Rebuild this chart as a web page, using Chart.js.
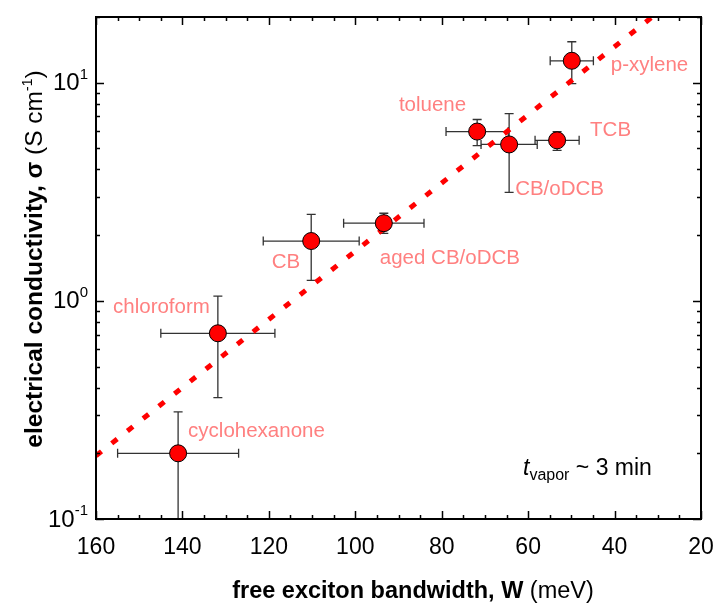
<!DOCTYPE html>
<html>
<head>
<meta charset="utf-8">
<script src="https://cdn.jsdelivr.net/npm/chart.js@4.4.1/dist/chart.umd.min.js"></script>
<style>
  html, body { margin: 0; padding: 0; background: #fff; }
  #wrap { width: 716px; height: 605px; }
</style>
</head>
<body>
<div id="wrap"><canvas id="chart" width="716" height="605"></canvas></div>
<script>
// solvent data
const solvents = ['cyclohexanone', 'chloroform', 'CB', 'aged CB/oDCB', 'toluene', 'CB/oDCB', 'TCB', 'p-xylene'];
const bandwidth = [141.0, 131.8, 110.2, 93.4, 71.8, 64.4, 53.3, 49.9];       // meV
const bandwidthErr = [14.0, 13.2, 11.1, 9.3, 7.2, 6.5, 5.1, 5.0];
const conductivity = [0.20, 0.71, 1.88, 2.27, 5.97, 5.21, 5.44, 12.6];      // S/cm
const sigmaLow = [0.10, 0.36, 1.24, 2.04, 5.15, 3.14, 4.89, 9.9];
const sigmaHigh = [0.31, 1.05, 2.49, 2.52, 6.78, 7.22, 5.97, 15.4];

// exponential fit (straight on log axis)
const fitW = [160, 31.3];
const fitSigma = [0.195, 20];

// axes
const xTicks = [160, 140, 120, 100, 80, 60, 40, 20];
const yTicks = [0.1, 1, 10];
const yExponents = ['-1', '0', '1'];

// label placement relative to each marker (px), kept apart from the data
const labelOffsets = [[10, -22, 'left'], [-8, -26, 'right'], [-11, 21, 'right'], [-4, 35, 'left'],
                      [-11, -26, 'right'], [6, 45, 'left'], [33, -10, 'left'], [39, 5, 'left']];

const FONT = '"Liberation Sans", Arial, Helvetica, sans-serif';

function drawRuns(ctx, runs, x, y) {
    // runs: [text, font, dy]
    let cx = x;
    runs.forEach(r => {
        ctx.font = r[1];
        ctx.fillText(r[0], cx, y + (r[2] || 0));
        cx += ctx.measureText(r[0]).width;
    });
}

function runsWidth(ctx, runs) {
    let w = 0;
    runs.forEach(r => { ctx.font = r[1]; w += ctx.measureText(r[0]).width; });
    return w;
}

const decorations = {
    id: 'decorations',
    beforeDatasetsDraw(chart) {
        const ctx = chart.ctx;
        const xs = chart.scales.x, ys = chart.scales.y;
        const cap = 4.5;
        ctx.save();
        ctx.strokeStyle = '#333';
        ctx.lineWidth = 1.3;
        bandwidth.forEach((w, i) => {
            const px = xs.getPixelForValue(w), py = ys.getPixelForValue(conductivity[i]);
            const xa = xs.getPixelForValue(w + bandwidthErr[i]), xb = xs.getPixelForValue(w - bandwidthErr[i]);
            const ya = ys.getPixelForValue(sigmaHigh[i]), yb = ys.getPixelForValue(sigmaLow[i]);
            ctx.beginPath();
            ctx.moveTo(xa, py); ctx.lineTo(xb, py);
            ctx.moveTo(xa, py - cap); ctx.lineTo(xa, py + cap);
            ctx.moveTo(xb, py - cap); ctx.lineTo(xb, py + cap);
            ctx.moveTo(px, ya); ctx.lineTo(px, yb);
            ctx.moveTo(px - cap, ya); ctx.lineTo(px + cap, ya);
            ctx.moveTo(px - cap, yb); ctx.lineTo(px + cap, yb);
            ctx.stroke();
        });
        ctx.restore();
    },
    afterDraw(chart) {
        const ctx = chart.ctx;
        const xs = chart.scales.x, ys = chart.scales.y;
        const { left, right, top, bottom } = chart.chartArea;
        ctx.save();

        // inward ticks on all four sides
        ctx.strokeStyle = '#000';
        ctx.lineWidth = 1.5;
        ctx.beginPath();
        for (let v = 160; v >= 20; v -= 5) {
            const x = Math.round(xs.getPixelForValue(v)) + 0.5;
            const len = v % 20 === 0 ? 8 : 4;
            ctx.moveTo(x, bottom); ctx.lineTo(x, bottom - len);
            ctx.moveTo(x, top); ctx.lineTo(x, top + len);
        }
        yTicks.forEach(d => {
            for (let k = 1; k <= 9; k++) {
                const v = d * k;
                if (v > ys.max) break;
                const y = Math.round(ys.getPixelForValue(v)) + 0.5;
                const len = k === 1 ? 8 : 4;
                ctx.moveTo(left, y); ctx.lineTo(left + len, y);
                ctx.moveTo(right, y); ctx.lineTo(right - len, y);
            }
        });
        ctx.stroke();

        // frame
        ctx.lineWidth = 2;
        ctx.strokeRect(left, top, right - left, bottom - top);

        // tick labels
        ctx.fillStyle = '#000';
        ctx.textBaseline = 'middle';
        ctx.textAlign = 'center';
        ctx.font = '23px ' + FONT;
        xTicks.forEach(v => ctx.fillText(String(v), xs.getPixelForValue(v), bottom + 29));
        ctx.textAlign = 'left';
        yTicks.forEach((v, i) => {
            const runs = [['10', '24px ' + FONT, 0], [yExponents[i], '15px ' + FONT, -9]];
            const w = runsWidth(ctx, runs);
            drawRuns(ctx, runs, left - 8 - w, ys.getPixelForValue(v) + 1);
        });

        // axis titles
        ctx.textBaseline = 'alphabetic';
        const xt = [['free exciton bandwidth, W', 'bold 23.5px ' + FONT], [' (meV)', '23.5px ' + FONT]];
        drawRuns(ctx, xt, 413 - runsWidth(ctx, xt) / 2, 598);

        const yt = [['electrical conductivity, \u03c3 ', 'bold 24.5px ' + FONT], ['(S cm', '24.5px ' + FONT],
                    ['-1', '14px ' + FONT, -10], [')', '24.5px ' + FONT]];
        ctx.save();
        ctx.translate(42, 259);
        ctx.rotate(-Math.PI / 2);
        drawRuns(ctx, yt, -runsWidth(ctx, yt) / 2, 0);
        ctx.restore();

        // solvent labels
        ctx.fillStyle = '#ff8080';
        ctx.textBaseline = 'middle';
        ctx.font = '20.5px ' + FONT;
        solvents.forEach((s, i) => {
            const o = labelOffsets[i];
            ctx.textAlign = o[2];
            ctx.fillText(s, xs.getPixelForValue(bandwidth[i]) + o[0], ys.getPixelForValue(conductivity[i]) + o[1]);
        });

        // vapor time note
        ctx.fillStyle = '#000';
        ctx.textAlign = 'left';
        ctx.textBaseline = 'alphabetic';
        drawRuns(ctx, [['t', 'italic 23px ' + FONT, 0], ['vapor', '16px ' + FONT, 5], [' ~ 3 min', '23px ' + FONT, 0]],
                 right - 178, bottom - 44);
        ctx.restore();
    }
};

new Chart(document.getElementById('chart'), {
    type: 'scatter',
    data: {
        datasets: [{
            label: 'solvents',
            data: bandwidth.map((w, i) => ({ x: w, y: conductivity[i] })),
            backgroundColor: '#ff0000',
            borderColor: '#000',
            borderWidth: 1,
            pointRadius: 8.5,
            order: 0
        }, {
            label: 'fit',
            data: fitW.map((w, i) => ({ x: w, y: fitSigma[i] })),
            showLine: true,
            borderColor: '#ff0000',
            borderWidth: 5,
            borderDash: [7, 13],
            pointRadius: 0,
            order: 1
        }]
    },
    options: {
        responsive: false,
        animation: false,
        devicePixelRatio: 1,
        layout: { padding: { left: 96, right: 15, top: 17, bottom: 86 } },
        plugins: { legend: { display: false }, tooltip: { enabled: false } },
        scales: {
            x: { type: 'linear', reverse: true, min: 20, max: 160, display: false },
            y: { type: 'logarithmic', min: 0.1, max: 20, display: false }
        }
    },
    plugins: [decorations]
});
</script>
</body>
</html>
